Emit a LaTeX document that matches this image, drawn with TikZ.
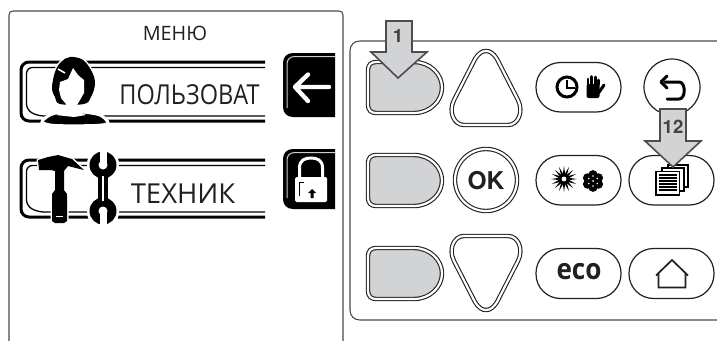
\documentclass[tikz,border=0pt]{standalone}
\usepackage{fontspec}
\usetikzlibrary{calc}
\setmainfont{Open Sans}
\newfontfamily\boldarial{TeX Gyre Heros}
\definecolor{ink}{HTML}{231F20}
\definecolor{panelline}{HTML}{4A4A4A}
\definecolor{btngray}{HTML}{D1D3D4}
\definecolor{arrowline}{HTML}{4D4D4F}
\newcommand{\dblshape}[2]{%
  \fill[#1] #2;
  \draw[line width=4.4pt,ink] #2;
  \draw[line width=2.2pt,white] #2;}
\tikzset{
  panel/.style={draw=panelline,line width=1.1pt},
  pill/.style={draw=ink,line width=1.2pt,rounded corners=24.5pt},
  framethick/.style={draw=black,line width=3pt,rounded corners=8pt},
  framethin/.style={draw=black,line width=1.3pt,rounded corners=6pt},
  menutext/.style={inner sep=0pt,text=ink},
  markarrow/.style={draw=arrowline,fill=btngray,line width=1.6pt,line join=miter},
  marktext/.style={inner sep=0pt,font=\boldarial\bfseries\fontsize{18.5}{19}\selectfont,text=ink!85},
  iconline/.style={draw=black,line width=3pt,line cap=round,line join=round},
}
\begin{document}
\begin{tikzpicture}[x=1pt,y=-1pt]
\useasboundingbox (0,0) rectangle (717,340);
\fill[white] (0,0) rectangle (717,340);
% panels
\draw[panel] (9,341) -- (9,15) .. controls (9,12.5) and (10.5,11) .. (13,11) -- (339,11) .. controls (341.5,11) and (343,12.5) .. (343,15) -- (343,341);
\draw[panel] (718,41) -- (360,41) .. controls (354,41) and (350,45) .. (350,51) -- (350,310) .. controls (350,316) and (354,320) .. (360,320) -- (718,320);
% title
\node[menutext,font=\fontsize{19.8}{20}\selectfont] (menu) at (175,33) {МЕНЮ};
% user item frame
\draw[framethick] (265,62) -- (21,62) -- (21,121) -- (265,121);
\draw[framethin] (265,67.5) -- (26.5,67.5) -- (26.5,110) -- (38,116) -- (265,116);
\node[menutext,font=\fontsize{27.5}{30}\selectfont,xscale=.855,transform shape] (user) at (189.5,95) {ПОЛЬЗОВАТ};
% person
\fill[black,draw=white,line width=3pt] plot[smooth cycle,tension=.6] coordinates {(70,57) (83,60) (92,72) (95,84) (91,97) (84,104) (60,104) (55,97) (52,88) (55,72) (61,62)};
\fill[black,draw=white,line width=3pt] plot[smooth cycle,tension=.5] coordinates {(42,122) (50,115) (62,112) (82,112) (100,115) (108,123) (95,125.5) (55,125.5)};
\fill[black] plot[smooth cycle,tension=.6] coordinates {(70,57) (83,60) (92,72) (95,84) (91,97) (84,104) (60,104) (55,97) (52,88) (55,72) (61,62)};
\fill[white] (73,68) -- (78,75) -- (84,80) -- (84,93) -- (80,100) -- (77,105) -- (77,111) -- (86,115) -- (74,117) -- (56,115) -- (66,111) -- (66,104) -- (61,98) -- (59,90) -- (60,82) -- (68,79) -- cycle;
\draw[white,line width=1.6pt] (58,69) -- (65,73);
% tech item frame
\draw[framethick] (265,160) -- (21,160) -- (21,217) -- (265,217);
\draw[framethin] (265,165.5) -- (26.5,165.5) -- (26.5,206) -- (38,212) -- (265,212);
\node[menutext,font=\fontsize{27.5}{30}\selectfont] (tech) at (183,194) {ТЕХНИК};
% hammer
\fill[black,draw=white,line width=3pt,line join=round] (38,160) -- (48,157) -- (58,155) -- (72,159) -- (84,170) -- (68,166) -- (64,171) -- (64,190) -- (67,194) -- (67,221) -- (64,223) -- (55,223) -- (52,221) -- (52,194) -- (55,190) -- (55,171) -- (51,170) -- (39,170) -- cycle;
\fill[black] (38,160) -- (48,157) -- (58,155) -- (72,159) -- (84,170) -- (68,166) -- (64,171) -- (64,190) -- (67,194) -- (67,221) -- (64,223) -- (55,223) -- (52,221) -- (52,194) -- (55,190) -- (55,171) -- (51,170) -- (39,170) -- cycle;
\draw[white,line width=.8pt] (56,216) -- (63,216);
% wrench
\fill[white] (103,164) circle (16);
\fill[white] (103,212) circle (16);
\fill[white] (95,170) rectangle (111,206);
\fill[black] (98,172) rectangle (108,205);
\fill[black] (103,165) circle (13.5);
\fill[black] (103,211) circle (13.5);
\fill[white] (103,165) circle (4.5);
\fill[white] (103,211) circle (4.5);
\fill[white] (99.5,150) rectangle (106.5,164);
\fill[white] (99.5,212) rectangle (106.5,227);
\draw[white,line width=1.2pt] (103,176) -- (103,201);
% back button
\fill[black] (335,53) -- (293,53) .. controls (287,53) and (283,57) .. (283,63) -- (283,107) .. controls (283,113) and (287,117) .. (293,117) -- (335,117) -- cycle;
\draw[white!80!black,line width=1pt] (335,56.5) -- (295,56.5) .. controls (290,56.5) and (287,59.5) .. (287,64) -- (287,108);
\draw[white,line width=4.4pt,line cap=round,line join=round] (329,87) -- (295,87) (308,74.5) -- (295,87) -- (308,101);
% lock button
\fill[black] (335,149) -- (293,149) .. controls (287,149) and (283,153) .. (283,159) -- (283,199) .. controls (283,205) and (287,209) .. (293,209) -- (335,209) -- cycle;
\draw[white!80!black,line width=1pt] (335,152.5) -- (295,152.5) .. controls (290,152.5) and (287,155.5) .. (287,160) -- (287,198);
\draw[white,line width=3pt] (299.5,178) -- (299.5,168) .. controls (299.5,160) and (305,158) .. (311,158) .. controls (317,158) and (322.5,160) .. (322.5,168) -- (322.5,178);
\fill[white,rounded corners=1.5pt] (295,177) rectangle (327,202);
\draw[black,line width=1pt] (299.5,196) -- (299.5,182) -- (304,182);
\fill[black] (312,189) -- (316,193) -- (313.5,193) -- (313.5,198) -- (310.5,198) -- (310.5,193) -- (308,193) -- cycle;
% grey soft keys
\foreach \dy in {0,93,186}{
  \begin{scope}[shift={(0,\dy)}]
  \dblshape{btngray}{(376,62) -- (414,62) .. controls (430,62) and (442,74) .. (442,87.5) .. controls (442,101) and (430,113) .. (414,113) -- (376,113) .. controls (371,113) and (368,110) .. (368,105) -- (368,70) .. controls (368,65) and (371,62) .. (376,62) -- cycle}
  \end{scope}
}
% up / ok / down
\dblshape{white}{(475,59) .. controls (479,53) and (482,51) .. (486,51) .. controls (490,51) and (493,53) .. (497,59) -- (518,100) .. controls (524,112) and (518,125) .. (508,125) -- (464,125) .. controls (454,125) and (448,112) .. (454,100) -- cycle}
\dblshape{white}{(486,180) circle (31)}
\node[inner sep=0pt,font=\boldarial\bfseries\fontsize{24.5}{26}\selectfont,text=ink] (ok) at (486,181) {OK};
\dblshape{white}{(475,302) .. controls (479,308) and (482,310) .. (486,310) .. controls (490,310) and (493,308) .. (497,302) -- (518,261) .. controls (524,249) and (518,236) .. (508,236) -- (464,236) .. controls (454,236) and (448,249) .. (454,261) -- cycle}
% pills
\draw[pill] (536,62.5) rectangle (621,112);
\draw[pill] (536,155.5) rectangle (621,205);
\draw[pill] (536,248.5) rectangle (621,298.5);
\draw[pill] (629,155.5) rectangle (714,205);
\draw[pill] (629,248.5) rectangle (714,298.5);
\draw[draw=ink,line width=1.2pt] (672,87) circle (28);
% clock
\draw[black,line width=3pt] (567,87) circle (10);
\draw[black,line width=2.2pt] (567,79.5) -- (567,88) -- (575,88);
% hand
\fill[black,rounded corners=2pt] (586.5,84) rectangle (599.5,98);
\draw[black,line width=2.8pt,line cap=round] (588,84) -- (588,79) (591.7,85) -- (591.7,76.5) (595.3,85) -- (595.3,77) (598.3,85) -- (598.3,80);
\draw[black,line width=3pt,line cap=round] (598.5,93) -- (604,85);
% sun
\foreach \a in {0,22.5,...,337.5}{
  \fill[black] ($(564,179)+(\a:13)$) -- ($(564,179)+(\a+16:4.5)$) -- ($(564,179)+(\a-16:4.5)$) -- cycle;
}
\fill[black] (564,179) circle (5.2);
\fill[white] (564,179) circle (2.4);
% snowflake
\foreach \a in {30,90,...,330}{
  \fill[black] ($(593,181)+(\a:6.3)$) circle (4.6);
  \fill[white] ($(593,181)+(\a:5)$) circle (.9);
}
\fill[black] (593,181) circle (4);
\fill[white] (593,181) circle (1);
% eco
\node[inner sep=0pt,font=\bfseries\fontsize{29}{30}\selectfont,text=ink,xscale=.9,transform shape] (eco) at (579,272) {eco};
% back icon
\draw[iconline] (665,82) -- (679,82) .. controls (686,82) and (686,99) .. (679,99) -- (667,99);
\draw[iconline] (667,76) -- (661,82) -- (667,88);
% pages
\draw[black,line width=1.3pt,fill=white] (668,165) rectangle (688,187);
\draw[black,line width=1.3pt,fill=white] (662,168) rectangle (684,191);
\draw[black,line width=1.8pt,fill=white] (656,171.5) rectangle (679.5,195);
\foreach \ly in {175,178,181,184,187,190}{ \draw[black,line width=1.2pt] (659,\ly) -- (677,\ly); }
% home
\draw[ink,line width=1.7pt,line join=miter] (656,275.5) -- (672,260) -- (688,275.5) (658.5,273.5) -- (658.5,287.5) -- (685.5,287.5) -- (685.5,273.5);
% marker arrows
\draw[markarrow] (386,21) -- (412,21) -- (412,52) -- (427,52) -- (398,78) -- (371,52) -- (386,52) -- cycle;
\node[marktext] (one) at (398,36) {1};
\draw[markarrow] (660,109) -- (686,109) -- (686,141) -- (701,141) -- (673,167) -- (645,141) -- (660,141) -- cycle;
\node[marktext] (twelve) at (673,126.5) {12};
\end{tikzpicture}
\end{document}
